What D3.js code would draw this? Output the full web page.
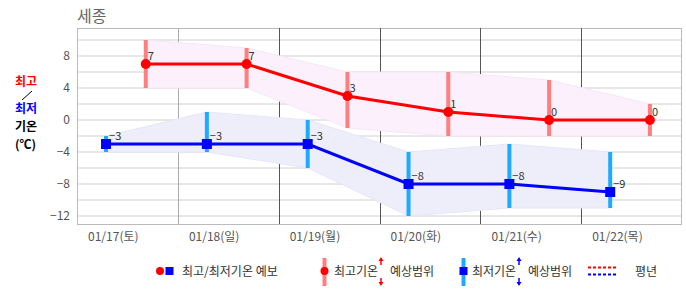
<!DOCTYPE html>
<html>
<head>
<meta charset="utf-8">
<script src="https://cdn.jsdelivr.net/npm/d3@7"></script>
<style>
  body { margin:0; background:#fff; }
  text { font-family:"Noto Sans CJK KR","Noto Sans",sans-serif; }
</style>
</head>
<body>
<div id="chart-area"></div>
<script>
// Data
var days = ["01/17(토)","01/18(일)","01/19(월)","01/20(화)","01/21(수)","01/22(목)"]
var maxTemp = [7,7,3,1,0,0]
var minTemp = [-3,-3,-3,-8,-8,-9]
var maxHi = [10,9,6,6,5,2]
var maxLo = [4,4,-1,-2,-2,-2]
var minHi = [-2,1,0,-4,-3,-4]
var minLo = [-4,-4,-6,-12,-11,-11]
var yTicks = [-12,-8,-4,0,4,8]

//Canvas
var W = 686, H = 295
var plot = {left:77, right:682, top:28, bottom:224}

var svg = d3.select("#chart-area").append("svg")
    .attr("width",W)
    .attr("height",H)

//Scales
var x = d3.scaleBand()
    .domain(days)
    .range([plot.left,plot.right])
    .padding(0)

var y = d3.scaleLinear()
    .domain([-13,11.5])
    .range([plot.bottom,plot.top])

var bw = x.bandwidth()
var xMax = (d)=> x(d) + bw*0.682
var xMin = (d)=> x(d) + bw*0.288

//Gridlines every 2 degrees
svg.append("g").selectAll("line")
    .data(d3.range(-12,11,2))
    .enter().append("line")
        .attr("x1",plot.left).attr("x2",plot.right)
        .attr("y1",d=>y(d)).attr("y2",d=>y(d))
        .attr("stroke","#d0d0d0")
        .attr("stroke-width",1)

//Plot border
svg.append("rect")
    .attr("x",plot.left+0.5).attr("y",plot.top+0.5)
    .attr("width",plot.right-plot.left-1)
    .attr("height",plot.bottom-plot.top)
    .attr("fill","none")
    .attr("stroke","#bbb")

//Day separators
svg.append("g").selectAll("line")
    .data(days.slice(1))
    .enter().append("line")
        .attr("x1",d=>Math.round(x(d))+0.5).attr("x2",d=>Math.round(x(d))+0.5)
        .attr("y1",plot.top).attr("y2",plot.bottom)
        .attr("stroke",(d,i)=> i==0 ? "#aaa" : "#555")

//Y axis
var yAxis = svg.append("g")
    .attr("transform","translate(" + plot.left + ",0)")
    .call(d3.axisLeft(y).tickValues(yTicks).tickSize(0).tickPadding(7)
        .tickFormat(d=> d<0 ? "\u2212" + Math.abs(d) : d))
yAxis.select(".domain").remove()
yAxis.selectAll("text")
    .attr("font-size","12px")
    .attr("fill","#555")
    .attr("font-family","'Noto Sans CJK KR',sans-serif")

//X labels
svg.append("g").selectAll("text")
    .data(days)
    .enter().append("text")
        .attr("x",d=>x(d)+bw*0.36)
        .attr("y",plot.bottom+17)
        .attr("text-anchor","middle")
        .attr("font-size","12px")
        .attr("fill","#555")
        .text(d=>d)

//Title
svg.append("text")
    .attr("x",plot.left)
    .attr("y",22)
    .attr("font-size","16px")
    .attr("fill","#666")
    .text("세종")

//Left label
var lab = svg.append("g").attr("font-size","12px").attr("font-weight","bold")
lab.append("text").attr("x",15).attr("y",86).attr("fill","#f00").text("최고")
lab.append("line").attr("x1",22).attr("y1",100).attr("x2",32).attr("y2",91)
    .attr("stroke","#000").attr("stroke-width",1)
lab.append("text").attr("x",15).attr("y",113).attr("fill","#00f").text("최저")
lab.append("text").attr("x",15).attr("y",131).attr("fill","#000").text("기온")
lab.append("text").attr("x",15).attr("y",149).attr("fill","#000").text("(℃)")

//Range bands
var idx = d3.range(days.length)
var maxArea = d3.area()
    .x(i=>xMax(days[i]))
    .y0(i=>y(maxLo[i]))
    .y1(i=>y(maxHi[i]))
var minArea = d3.area()
    .x(i=>xMin(days[i]))
    .y0(i=>y(minLo[i]))
    .y1(i=>y(minHi[i]))

svg.append("path").datum(idx)
    .attr("d",maxArea)
    .attr("fill","#fcf0fc")
    .attr("stroke","#f8e6f8")
svg.append("path").datum(idx)
    .attr("d",minArea)
    .attr("fill","#eeeefb")
    .attr("stroke","#e6e6f8")

//Range bars
svg.append("g").selectAll("line")
    .data(idx)
    .enter().append("line")
        .attr("x1",i=>xMax(days[i])).attr("x2",i=>xMax(days[i]))
        .attr("y1",i=>y(maxHi[i])).attr("y2",i=>y(maxLo[i]))
        .attr("stroke","#ff7f7f")
        .attr("stroke-width",4)
svg.append("g").selectAll("line")
    .data(idx)
    .enter().append("line")
        .attr("x1",i=>xMin(days[i])).attr("x2",i=>xMin(days[i]))
        .attr("y1",i=>y(minHi[i])).attr("y2",i=>y(minLo[i]))
        .attr("stroke","#1eaaff")
        .attr("stroke-width",4)

//Lines
svg.append("path").datum(idx)
    .attr("d",d3.line().x(i=>xMax(days[i])).y(i=>y(maxTemp[i])))
    .attr("fill","none")
    .attr("stroke","#f00")
    .attr("stroke-width",3)
svg.append("path").datum(idx)
    .attr("d",d3.line().x(i=>xMin(days[i])).y(i=>y(minTemp[i])))
    .attr("fill","none")
    .attr("stroke","#00f")
    .attr("stroke-width",3)

//Markers
svg.append("g").selectAll("circle")
    .data(idx)
    .enter().append("circle")
        .attr("cx",i=>xMax(days[i]))
        .attr("cy",i=>y(maxTemp[i]))
        .attr("r",5)
        .attr("fill","#f00")
svg.append("g").selectAll("rect")
    .data(idx)
    .enter().append("rect")
        .attr("x",i=>xMin(days[i])-5)
        .attr("y",i=>y(minTemp[i])-5)
        .attr("width",10).attr("height",10)
        .attr("fill","#00f")

//Value labels
svg.append("g").selectAll("text")
    .data(idx)
    .enter().append("text")
        .attr("x",i=>xMax(days[i])+2)
        .attr("y",i=>y(maxTemp[i])-4)
        .attr("font-size","11px")
        .attr("font-family","'DejaVu Sans Mono',monospace")
        .attr("fill","#333")
        .text(i=>maxTemp[i])
svg.append("g").selectAll("text")
    .data(idx)
    .enter().append("text")
        .attr("x",i=>xMin(days[i])+3)
        .attr("y",i=>y(minTemp[i])-4)
        .attr("font-size","11px")
        .attr("font-family","'DejaVu Sans Mono',monospace")
        .attr("fill","#333")
        .text(i=>"\u2212" + Math.abs(minTemp[i]))

//Legend
var lg = svg.append("g").attr("font-size","12px").attr("fill","#333")
var ly = 271
var arrow = (g,ax,color)=>{
    g.append("line").attr("x1",ax).attr("x2",ax).attr("y1",260).attr("y2",265)
        .attr("stroke",color).attr("stroke-width",1.5)
    g.append("path").attr("d","M"+(ax-2.5)+",261 L"+ax+",257 L"+(ax+2.5)+",261 Z").attr("fill",color)
    g.append("line").attr("x1",ax).attr("x2",ax).attr("y1",278).attr("y2",283)
        .attr("stroke",color).attr("stroke-width",1.5)
    g.append("path").attr("d","M"+(ax-2.5)+",282 L"+ax+",286 L"+(ax+2.5)+",282 Z").attr("fill",color)
}
lg.append("circle").attr("cx",160).attr("cy",ly).attr("r",4).attr("fill","#f00")
lg.append("rect").attr("x",165.5).attr("y",ly-4).attr("width",8).attr("height",8).attr("fill","#00f")
lg.append("text").attr("x",182).attr("y",ly+4.5).text("최고/최저기온 예보")

lg.append("line").attr("x1",324.5).attr("x2",324.5).attr("y1",258).attr("y2",286)
    .attr("stroke","#ff7f7f").attr("stroke-width",4)
lg.append("circle").attr("cx",324.5).attr("cy",ly).attr("r",4).attr("fill","#f00")
lg.append("text").attr("x",334).attr("y",ly+4.5).text("최고기온")
arrow(lg,381,"#f00")
lg.append("text").attr("x",390).attr("y",ly+4.5).text("예상범위")

lg.append("line").attr("x1",463.5).attr("x2",463.5).attr("y1",258).attr("y2",286)
    .attr("stroke","#1eaaff").attr("stroke-width",4)
lg.append("rect").attr("x",459.5).attr("y",ly-4).attr("width",8).attr("height",8).attr("fill","#00f")
lg.append("text").attr("x",472).attr("y",ly+4.5).text("최저기온")
arrow(lg,519,"#00f")
lg.append("text").attr("x",528).attr("y",ly+4.5).text("예상범위")

lg.append("line").attr("x1",588).attr("x2",616).attr("y1",267.5).attr("y2",267.5)
    .attr("stroke","#f00").attr("stroke-width",2).attr("stroke-dasharray","3,2")
lg.append("line").attr("x1",588).attr("x2",616).attr("y1",274.5).attr("y2",274.5)
    .attr("stroke","#00f").attr("stroke-width",2).attr("stroke-dasharray","3,2")
lg.append("text").attr("x",635).attr("y",ly+4.5).text("평년")
</script>
</body>
</html>
